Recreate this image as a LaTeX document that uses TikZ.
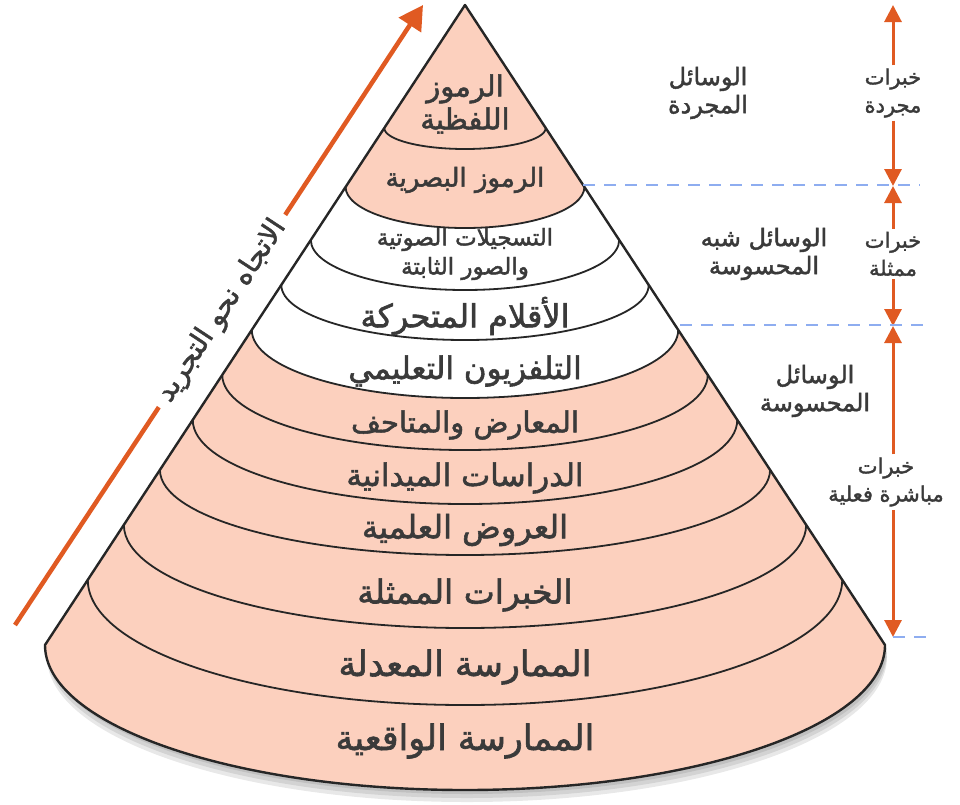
\documentclass[tikz,border=0pt]{standalone}
\usepackage{fontspec}
\newfontfamily\arabicfont[Script=Arabic, BoldFont={DejaVu Sans}, BoldFeatures={FakeBold=1.8}]{DejaVu Sans}
\TeXXeTstate=1
\usetikzlibrary{arrows.meta}

\newcommand{\artxt}[1]{\beginR #1\endR}
\newcommand{\arsize}[2]{\arabicfont\bfseries\fontsize{#1}{#2}\selectfont}

\definecolor{conepink}{HTML}{FCD0BE}
\definecolor{arrorange}{HTML}{E05A22}
\definecolor{guideblue}{HTML}{8EADF0}
\definecolor{labelgray}{HTML}{3A3A3A}

\tikzset{
  band/.style={text=labelgray, align=center, inner sep=0pt, font=\arsize{31}{34}},
  sidelabel/.style={text=labelgray, align=center, inner sep=3pt, font=\arsize{24}{28}},
  rangelabel/.style={sidelabel, font=\arsize{21}{28}},
  rim/.style={draw=black!85, line width=1.8pt},
  varrow/.style={arrorange, line width=3pt, -{Triangle[width=17pt,length=17pt]}},
  dirline/.style={arrorange, line width=4.5pt},
  guide/.style={guideblue, line width=2pt, dash pattern=on 12pt off 9pt},
}

\begin{document}
\begin{tikzpicture}[x=1pt, y=1pt]
    \useasboundingbox (0,0) rectangle (960,-804);

    % shadow under the cone
    \foreach \s in {4,8,12}
        \fill[black, opacity=0.09, xshift=2pt, yshift=-\s pt] (465,-5) -- (45,-645)
            arc[start angle=180, end angle=360, x radius=420, y radius=145] -- cycle;

    % cone body
    \fill[conepink] (465,-5) -- (45,-645)
        arc[start angle=180, end angle=360, x radius=420, y radius=145] -- cycle;
    \fill[white] ({465-213.2},-330)
        arc[start angle=180, end angle=360, x radius=213.2, y radius=68]
        -- ({465+119.4},-187)
        arc[start angle=360, end angle=180, x radius=119.4, y radius=41] -- cycle;

    % band rims
    \foreach \ys/\dep in {128/21, 187/41, 240/50, 285/55, 330/68, 375/75, 420/84, 470/85, 525/103, 580/125} {
        \pgfmathsetmacro\rx{0.656*(\ys-5)}
        \draw[rim] ({465-\rx},-\ys) arc[start angle=180, end angle=360, x radius=\rx, y radius=\dep];
    }
    \draw[rim, line width=2.4pt, line join=round] (465,-5) -- (45,-645)
        arc[start angle=180, end angle=360, x radius=420, y radius=145] -- cycle;

    % band labels
    \node[band, font=\arsize{29}{33}] (lafzi) at (465,-104) {\artxt{الرموز}\\\artxt{اللفظية}};
    \node[band, font=\arsize{26}{30}] (basari) at (465,-180) {\artxt{الرموز البصرية}};
    \node[band, font=\arsize{23}{29}] (tasjil) at (465,-254) {\artxt{التسجيلات الصوتية}\\\artxt{والصور الثابتة}};
    \node[band, font=\arsize{32}{34}] (aflam) at (465,-316) {\artxt{الأقلام المتحركة}};
    \node[band] (tilfaz) at (465,-371) {\artxt{التلفزيون التعليمي}};
    \node[band, font=\arsize{29}{34}] (maarid) at (465,-425) {\artxt{المعارض والمتاحف}};
    \node[band] (dirasat) at (465,-478) {\artxt{الدراسات الميدانية}};
    \node[band, font=\arsize{32}{34}] (urud) at (465,-530) {\artxt{العروض العلمية}};
    \node[band, font=\arsize{33}{36}] (mumaththala) at (465,-595) {\artxt{الخبرات الممثلة}};
    \node[band, font=\arsize{35}{38}] (muaddala) at (465,-667) {\artxt{الممارسة المعدلة}};
    \node[band, font=\arsize{35}{38}] (waqiiya) at (465,-741) {\artxt{الممارسة الواقعية}};

    % direction towards abstraction
    \coordinate (dirbase) at (15,-625);
    \coordinate (dirtip) at (423,-5);
    \node[band, font=\arsize{28}{32}, rotate=56.7, inner xsep=9pt] (dir) at (222,-311) {\artxt{الاتجاه نحو التجريد}};
    \draw[dirline] (dirbase) -- (dir.west);
    \draw[dirline, -{Triangle[width=26pt,length=24pt]}] (dir.east) -- (dirtip);

    % media groups
    \node[sidelabel] (mujarrada) at (708,-93) {\artxt{الوسائل}\\\artxt{المجردة}};
    \node[sidelabel] (shibh) at (764,-254) {\artxt{الوسائل شبه}\\\artxt{المحسوسة}};
    \node[sidelabel] (mahsusa) at (815,-391) {\artxt{الوسائل}\\\artxt{المحسوسة}};

    % experience ranges
    \node[rangelabel] (xabs) at (893,-93) {\artxt{خبرات}\\\artxt{مجردة}};
    \node[rangelabel] (xrep) at (893,-254) {\artxt{خبرات}\\\artxt{ممثلة}};
    \node[rangelabel] (xdir) at (886,-482) {\artxt{خبرات}\\\artxt{مباشرة فعلية}};

    \coordinate (cut0) at (893,-5);
    \coordinate (cut1) at (893,-186);
    \coordinate (cut2) at (893,-326);
    \coordinate (cut3) at (893,-637);

    \draw[varrow] (xabs) -- (cut0);
    \draw[varrow] (xabs) -- (cut1);
    \draw[varrow] (xrep) -- (cut1);
    \draw[varrow] (xrep) -- (cut2);
    \draw[varrow] (xdir.north -| cut2) -- (cut2);
    \draw[varrow] (xdir.south -| cut3) -- (cut3);

    % group borders
    \draw[guide] (583,-185) -- (920,-185);
    \draw[guide] (680,-325) -- (925,-325);
    \draw[guide] (cut3) -- (928,-637);
\end{tikzpicture}
\end{document}
